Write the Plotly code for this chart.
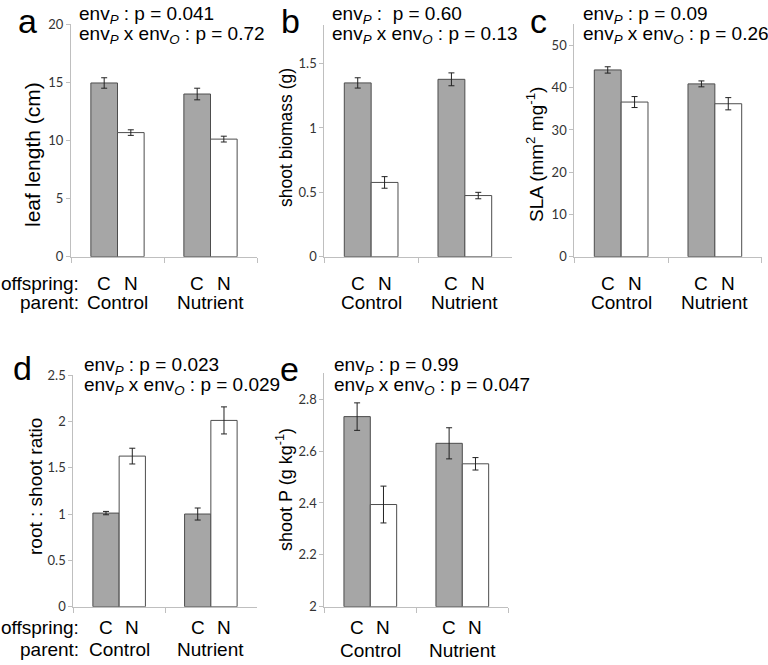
import plotly.graph_objects as go

W, H = 768, 665

parents = ["Control", "Nutrient"]
offspring = ["C", "N"]

# panel data
leaf_C = [14.95, 14.0]
leaf_N = [10.68, 10.12]
leaf_C_err = [0.45, 0.5]
leaf_N_err = [0.24, 0.25]

biom_C = [1.35, 1.378]
biom_N = [0.577, 0.475]
biom_C_err = [0.04, 0.05]
biom_N_err = [0.045, 0.025]

sla_C = [44.2, 40.9]
sla_N = [36.6, 36.2]
sla_C_err = [0.75, 0.7]
sla_N_err = [1.3, 1.45]

rs_C = [1.01, 1.0]
rs_N = [1.625, 2.01]
rs_C_err = [0.018, 0.065]
rs_N_err = [0.085, 0.146]

sp_C = [2.733, 2.63]
sp_N = [2.394, 2.551]
sp_C_err = [0.053, 0.06]
sp_N_err = [0.071, 0.024]

panels = [
    dict(letter="a", C=leaf_C, N=leaf_N, Ce=leaf_C_err, Ne=leaf_N_err,
         yr=[0, 20], dt=5, title="leaf length (cm)", tsize=21,
         line1="env<sub><i>P</i></sub> : p = 0.041",
         line2="env<sub><i>P</i></sub> x env<sub><i>O</i></sub> : p = 0.72",
         box=(71, 257, 24.3, 256.7), tx=33, ty=155, letxy=(27, 0, "top"),
         txt=(77, 14.5, 34.5), rows=(283.5, 302.5)),
    dict(letter="b", C=biom_C, N=biom_N, Ce=biom_C_err, Ne=biom_N_err,
         yr=[0, 1.8], dt=0.5, title="shoot biomass (g)", tsize=17.5,
         line1="env<sub><i>P</i></sub> :  p = 0.60",
         line2="env<sub><i>P</i></sub> x env<sub><i>O</i></sub> : p = 0.13",
         box=(324.3, 511.7, 25, 256.7), tx=286, ty=138, letxy=(290, 0, "top"),
         txt=(330, 15, 35), rows=(283.5, 302.5)),
    dict(letter="c", C=sla_C, N=sla_N, Ce=sla_C_err, Ne=sla_N_err,
         yr=[0, 55], dt=10, title="SLA (mm<sup>2</sup> mg<sup>-1</sup>)", tsize=19,
         line1="env<sub><i>P</i></sub> : p = 0.09",
         line2="env<sub><i>P</i></sub> x env<sub><i>O</i></sub> : p = 0.26",
         box=(574.3, 761.7, 24.3, 256.7), tx=535, ty=155, letxy=(538, 0, "top"),
         txt=(581, 14.5, 34.5), rows=(283.5, 302.5)),
    dict(letter="d", C=rs_C, N=rs_N, Ce=rs_C_err, Ne=rs_N_err,
         yr=[0, 2.5], dt=0.5, title="root : shoot ratio", tsize=19,
         line1="env<sub><i>P</i></sub> : p = 0.023",
         line2="env<sub><i>P</i></sub> x env<sub><i>O</i></sub> : p = 0.029",
         box=(73.3, 256.7, 375, 606.7), tx=35, ty=487, letxy=(22, 368, "middle"),
         txt=(82, 366, 386), rows=(627.5, 649.5)),
    dict(letter="e", C=sp_C, N=sp_N, Ce=sp_C_err, Ne=sp_N_err,
         yr=[2, 2.9], dt=0.2, title="shoot P (g kg<sup>-1</sup>)", tsize=18,
         line1="env<sub><i>P</i></sub> : p = 0.99",
         line2="env<sub><i>P</i></sub> x env<sub><i>O</i></sub> : p = 0.047",
         box=(324.3, 508.3, 373.3, 606.7), tx=284, ty=490, letxy=(289, 369, "middle"),
         txt=(332, 366, 386), rows=(627.5, 650.5)),
]

BARGAP = 0.427
half = (1 - BARGAP) / 4  # offset of each bar centre from category centre

ARIAL = "Liberation Sans, Arial, sans-serif"
TICKF = "Lato, Open Sans, sans-serif"
AXC = "#bfbfbf"
GREY = "#a6a6a6"
EDGE = "#4d4d4d"


def px(x):
    return x / W


def py(y):
    return 1 - y / H


fig = go.Figure()
annotations = []
layout = {}

for i, p in enumerate(panels):
    n = "" if i == 0 else str(i + 1)
    xa, ya = "x" + n, "y" + n
    x0, x1, y0, y1 = p["box"]
    lo = p["yr"][0]
    for name, vals, errs, col in [("C", p["C"], p["Ce"], GREY), ("N", p["N"], p["Ne"], "white")]:
        fig.add_trace(go.Bar(
            x=parents, y=[v - lo for v in vals], base=lo if lo else None,
            name=name, xaxis=xa, yaxis=ya,
            marker=dict(color=col, line=dict(color=EDGE, width=1)),
            error_y=dict(type="data", array=errs, color="#222222", thickness=1, width=3),
            showlegend=False, offsetgroup=name,
        ))
    layout["xaxis" + n] = dict(
        domain=[px(x0), px(x1)], anchor=ya, type="category", automargin=False,
        range=[-0.5, 1.5], showline=True, linecolor=AXC, linewidth=1,
        ticks="outside", tickson="boundaries", ticklen=5, tickcolor=AXC,
        showticklabels=False, showgrid=False, zeroline=False, fixedrange=True,
    )
    layout["yaxis" + n] = dict(
        domain=[py(y1), py(y0)], anchor=xa, range=p["yr"], dtick=p["dt"],
        tick0=lo, showline=True, linecolor=AXC, linewidth=1, automargin=False,
        ticks="outside", ticklen=4, tickcolor=AXC, showgrid=False, zeroline=False,
        tickfont=dict(family=TICKF, size=13, color="#333333"), fixedrange=True,
    )
    # y title
    annotations.append(dict(
        text=p["title"], xref="paper", yref="paper", x=px(p["tx"]), y=py(p["ty"]),
        xanchor="center", yanchor="middle", textangle=-90, showarrow=False,
        font=dict(family=ARIAL, size=p["tsize"], color="black"),
    ))
    # panel letter
    lx, ly, lanchor = p["letxy"]
    annotations.append(dict(
        text=p["letter"], xref="paper", yref="paper", x=px(lx), y=py(ly),
        xanchor="center", yanchor=lanchor, showarrow=False,
        font=dict(family=ARIAL, size=34, color="black"),
    ))
    # p-value lines
    tx0, l1, l2 = p["txt"]
    for t, yy in [(p["line1"], l1), (p["line2"], l2)]:
        annotations.append(dict(
            text=t, xref="paper", yref="paper", x=px(tx0), y=py(yy),
            xanchor="left", yanchor="middle", showarrow=False,
            font=dict(family=ARIAL, size=19, color="black"),
        ))
    # C / N and parent labels
    r1, r2 = p["rows"]
    for ci, par in enumerate(parents):
        for k, off in enumerate(offspring):
            annotations.append(dict(
                text=off, xref=xa, yref="paper", x=ci + (2 * k - 1) * half, y=py(r1),
                xanchor="center", yanchor="middle", showarrow=False,
                font=dict(family=ARIAL, size=19, color="black"),
            ))
        annotations.append(dict(
            text=par, xref=xa, yref="paper", x=ci, y=py(r2),
            xanchor="center", yanchor="middle", showarrow=False,
            font=dict(family=ARIAL, size=19, color="black"),
        ))
    if p["letter"] in ("a", "d"):
        for t, yy in [("offspring:", r1), ("parent:", r2)]:
            annotations.append(dict(
                text=t, xref="paper", yref="paper", x=px(81), y=py(yy),
                xanchor="right", yanchor="middle", showarrow=False,
                font=dict(family=ARIAL, size=19, color="black"),
            ))

fig.update_layout(
    template="none",
    width=W, height=H, margin=dict(l=0, r=0, t=0, b=0, autoexpand=False),
    paper_bgcolor="white", plot_bgcolor="white",
    barmode="group", bargap=BARGAP, bargroupgap=0,
    annotations=annotations, **layout,
)

fig.write_html("out.html", config={"displayModeBar": False},
               post_script="document.body.style.margin='0';")
